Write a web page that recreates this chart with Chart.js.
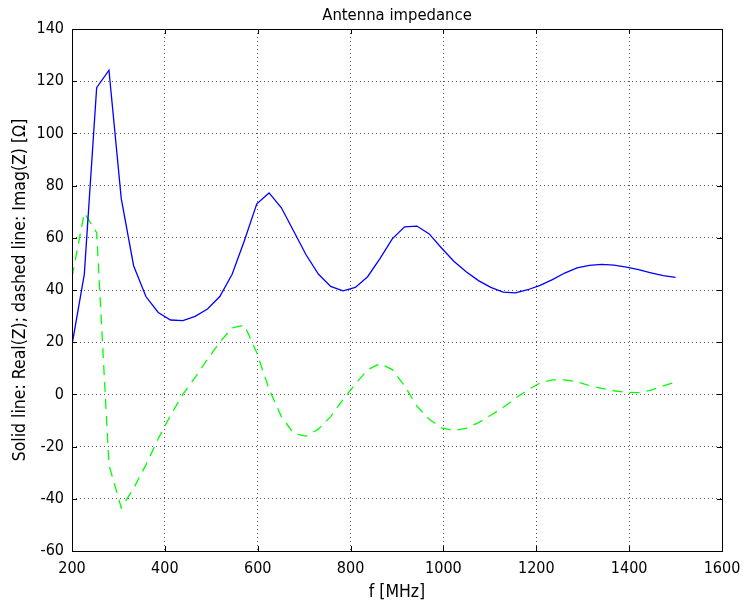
<!DOCTYPE html>
<html>
<head>
<meta charset="utf-8">
<script src="https://cdn.jsdelivr.net/npm/chart.js@4"></script>
<style>
  html, body { margin: 0; padding: 0; background: #fff; }
  #wrap { width: 744px; height: 606px; }
</style>
</head>
<body>
<div id="wrap"><canvas id="impedance-chart" width="744" height="606"></canvas></div>
<script>
// frequency samples (MHz)
var freqs = [200, 226.5, 253.1, 279.6, 306.1, 332.7, 359.2, 385.7, 412.2, 438.8,
             465.3, 491.8, 518.4, 544.9, 571.4, 598.0, 624.5, 651.0, 677.6, 704.1,
             730.6, 757.1, 783.7, 810.2, 836.7, 863.3, 889.8, 916.3, 942.9, 969.4,
             995.9, 1022.4, 1049.0, 1075.5, 1102.0, 1128.6, 1155.1, 1181.6, 1208.2, 1234.7,
             1261.2, 1287.8, 1314.3, 1340.8, 1367.3, 1393.9, 1420.4, 1446.9, 1473.5, 1500];

// Real(Z), solid line
var realZ = [19, 46, 117.5, 124.2, 75, 49.3, 37.5, 31.4, 28.5, 28.3,
             29.9, 32.7, 37.5, 46, 59, 73, 77.2, 71.5, 62.5, 53.5,
             46.1, 41.4, 39.7, 41, 45.1, 52, 59.6, 64.2, 64.5, 61.5,
             56.1, 51, 47, 43.6, 41, 39.2, 38.9, 40.1, 41.8, 44,
             46.5, 48.5, 49.4, 49.8, 49.5, 48.8, 47.8, 46.6, 45.5, 44.8];

// Imag(Z), dashed line
var imagZ = [45, 69.5, 62, -27, -43.5, -36, -27, -17, -8, 0,
             6.5, 13.5, 20, 25.5, 26.5, 16, 2, -8.5, -15, -16,
             -13.3, -8.5, -2, 4, 9.4, 11.8, 9.5, 3.3, -4.5, -9.5,
             -12.8, -13.9, -13, -10.8, -8, -5, -1.5, 1.7, 4.4, 5.6,
             5.6, 4.8, 3.4, 2.3, 1.4, 0.8, 0.7, 1.6, 3.3, 4.7];

var xTicks = [200, 400, 600, 800, 1000, 1200, 1400, 1600];
var yTicks = [-60, -40, -20, 0, 20, 40, 60, 80, 100, 120, 140];

var fontFam = "'DejaVu Sans Condensed', 'DejaVu Sans', sans-serif";

function toPoints(xs, ys) {
    var pts = [];
    for (var i = 0; i < xs.length; i++) {
        pts.push({x: xs[i], y: ys[i]});
    }
    return pts;
}

// frame round the plot, small inward ticks, and the title
var framePlugin = {
    id: 'frame',
    afterDatasetsDraw: function(chart) {
        var ctx = chart.ctx;
        var a = chart.chartArea;
        var sx = chart.scales.x, sy = chart.scales.y;
        ctx.save();
        ctx.strokeStyle = '#000';
        ctx.lineWidth = 1;
        ctx.strokeRect(Math.round(a.left) + 0.5, Math.round(a.top) + 0.5,
                       Math.round(a.right - a.left), Math.round(a.bottom - a.top));
        ctx.beginPath();
        for (var i = 0; i < xTicks.length; i++) {
            var px = Math.round(sx.getPixelForValue(xTicks[i])) + 0.5;
            ctx.moveTo(px, a.bottom); ctx.lineTo(px, a.bottom - 5);
            ctx.moveTo(px, a.top); ctx.lineTo(px, a.top + 5);
        }
        for (var j = 0; j < yTicks.length; j++) {
            var py = Math.round(sy.getPixelForValue(yTicks[j])) + 0.5;
            ctx.moveTo(a.left, py); ctx.lineTo(a.left + 5, py);
            ctx.moveTo(a.right, py); ctx.lineTo(a.right - 5, py);
        }
        ctx.stroke();
        ctx.fillStyle = '#000';
        ctx.font = '16.5px ' + fontFam;
        ctx.textAlign = 'center';
        ctx.textBaseline = 'alphabetic';
        ctx.fillText('Antenna impedance', (a.left + a.right) / 2, 20);
        ctx.restore();
    }
};

var ctx = document.getElementById("impedance-chart");

var chart = new Chart(ctx, {
    type: "line",
    data: {
        datasets: [
            {
                label: "Real(Z)",
                data: toPoints(freqs, realZ),
                borderColor: '#0000ff',
                borderWidth: 1.3,
                pointRadius: 0,
                tension: 0,
                fill: false
            },
            {
                label: "Imag(Z)",
                data: toPoints(freqs, imagZ),
                borderColor: '#00ff00',
                borderWidth: 1.3,
                borderDash: [10, 7],
                pointRadius: 0,
                tension: 0,
                fill: false
            }
        ]
    },
    options: {
        responsive: false,
        animation: false,
        layout: { padding: { top: 29, right: 22, left: 0, bottom: 0 } },
        plugins: {
            legend: { display: false },
            tooltip: { enabled: false },
            title: { display: false }
        },
        scales: {
            x: {
                type: 'linear',
                min: 200,
                max: 1600,
                afterBuildTicks: function(scale) {
                    scale.ticks = xTicks.map(function(v) { return {value: v}; });
                },
                afterFit: function(scale) {
                    scale.height = 55;
                    scale.paddingLeft = 0;
                    scale.paddingRight = 0;
                },
                grid: { color: '#555', drawTicks: false },
                border: { display: false, dash: [1, 3] },
                ticks: {
                    color: '#000',
                    padding: 8,
                    maxRotation: 0,
                    callback: function(v) { return String(v); },
                    font: { family: fontFam, size: 16 }
                },
                title: {
                    display: true,
                    text: 'f [MHz]',
                    color: '#000',
                    padding: { top: 0, bottom: 3 },
                    font: { family: fontFam, size: 17.5 }
                }
            },
            y: {
                type: 'linear',
                min: -60,
                max: 140,
                afterBuildTicks: function(scale) {
                    scale.ticks = yTicks.map(function(v) { return {value: v}; });
                },
                afterFit: function(scale) {
                    scale.width = 72;
                    scale.paddingTop = 0;
                    scale.paddingBottom = 0;
                },
                grid: { color: '#555', drawTicks: false },
                border: { display: false, dash: [1, 3] },
                ticks: {
                    color: '#000',
                    padding: 8,
                    callback: function(v) { return String(v); },
                    font: { family: fontFam, size: 16 }
                },
                title: {
                    display: true,
                    text: 'Solid line: Real(Z); dashed line: Imag(Z) [Ω]',
                    color: '#000',
                    padding: { top: 10, bottom: 0 },
                    font: { family: fontFam, size: 17.5 }
                }
            }
        }
    },
    plugins: [framePlugin]
});
</script>
</body>
</html>
